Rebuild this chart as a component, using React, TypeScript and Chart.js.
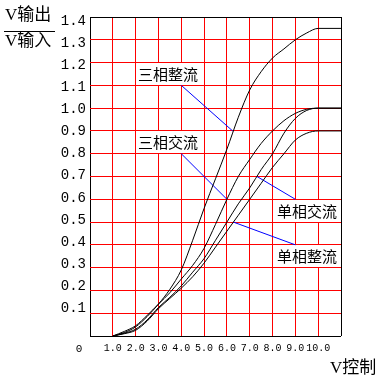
import React, { useEffect, useRef } from 'react';
import { Chart, registerables } from 'chart.js';

Chart.register(...registerables);

// ---- data ----
const xValues = [1, 1.5, 2, 2.5, 3, 3.5, 4, 4.5, 5, 5.5, 6, 6.5, 7, 7.5, 8, 8.5, 9, 9.5, 10, 11];
const sanXiangZhengLiu = [0, 0.015, 0.04, 0.085, 0.14, 0.205, 0.29, 0.42, 0.56, 0.69, 0.82, 0.96, 1.08, 1.16, 1.22, 1.26, 1.3, 1.33, 1.35, 1.35];
const sanXiangJiaoLiu = [0, 0.02, 0.045, 0.09, 0.14, 0.19, 0.25, 0.31, 0.385, 0.49, 0.6, 0.7, 0.775, 0.845, 0.9, 0.945, 0.977, 0.995, 1.0, 1.0];
const danXiangJiaoLiu = [0, 0.012, 0.03, 0.07, 0.125, 0.17, 0.22, 0.28, 0.34, 0.42, 0.5, 0.58, 0.65, 0.73, 0.8, 0.89, 0.955, 0.99, 1.0, 1.0];
const danXiangZhengLiu = [0, 0.01, 0.025, 0.065, 0.12, 0.165, 0.21, 0.26, 0.32, 0.39, 0.46, 0.53, 0.6, 0.67, 0.74, 0.8, 0.86, 0.89, 0.9, 0.9];

const xTickValues = [0, 1, 2, 3, 4, 5, 6, 7, 8, 9, 10, 11];
const xTickLabels = ['', '1.0', '2.0', '3.0', '4.0', '5.0', '6.0', '7.0', '8.0', '9.0', '10.0', ''];
const yGridValues = [0, 0.1, 0.2, 0.3, 0.4, 0.5, 0.6, 0.7, 0.8, 0.9, 1.0, 1.1, 1.2, 1.3, 1.4];
const yTickValues = [0.1, 0.2, 0.3, 0.4, 0.5, 0.6, 0.7, 0.8, 0.9, 1.0, 1.1, 1.2, 1.3, 1.4];

// annotations
const labelTexts = ['三相整流', '三相交流', '单相交流', '单相整流'];
const labelBoxX0 = [2, 2, 8, 8];
const labelBoxX1 = [5, 5, 11, 11];
const labelBoxY0 = [1.1, 0.8, 0.5, 0.3];
const labelBoxY1 = [1.2, 0.9, 0.6, 0.4];
const labelTextX = [2.1, 2.1, 8.2, 8.2];
const pointerStartX = [4, 4, 9, 9];
const pointerStartY = [1.1, 0.8, 0.6, 0.4];
const pointerEndX = [6.25, 6.0, 7.32, 6.28];
const pointerEndY = [0.9, 0.6, 0.7, 0.5];

const yTitleTop = 'V输出';
const yTitleBottom = 'V输入';
const xTitle = 'V控制';
const originLabel = '0';

const CJK = "'Noto Sans CJK SC'";
const MONO = "'Liberation Mono', 'DejaVu Sans Mono', monospace";

const annotationPlugin = {
  id: 'annot',
  beforeDatasetsDraw(chart: any) {
    const { ctx } = chart;
    const xs = chart.scales.x;
    const ys = chart.scales.y;
    ctx.save();
    labelTexts.forEach((t, i) => {
      const l = Math.round(xs.getPixelForValue(labelBoxX0[i]) - 0.5) + 1;
      const r = Math.round(xs.getPixelForValue(labelBoxX1[i]) - 0.5);
      const top = Math.round(ys.getPixelForValue(labelBoxY1[i]) - 0.5) + 1;
      const bot = Math.round(ys.getPixelForValue(labelBoxY0[i]) - 0.5);
      ctx.fillStyle = '#ffffff';
      ctx.fillRect(l, top, r - l, bot - top);
      ctx.fillStyle = '#000000';
      ctx.font = `15px ${CJK}`;
      ctx.textAlign = 'left';
      ctx.textBaseline = 'middle';
      ctx.fillText(t, xs.getPixelForValue(labelTextX[i]), (top + bot) / 2 + 0.5);
    });
    ctx.restore();
  },
  afterDraw(chart: any) {
    const { ctx } = chart;
    ctx.save();
    ctx.fillStyle = '#000';
    ctx.textBaseline = 'middle';
    ctx.textAlign = 'left';
    ctx.font = `17px 'Liberation Serif', ${CJK}`;
    ctx.fillText(yTitleTop, 5, 16);
    ctx.fillText(yTitleBottom, 5, 41.5);
    ctx.fillText(xTitle, 330, 369);
    ctx.strokeStyle = '#000';
    ctx.lineWidth = 1;
    ctx.beginPath();
    ctx.moveTo(4, 31.5);
    ctx.lineTo(55, 31.5);
    ctx.stroke();
    ctx.font = `11px ${MONO}`;
    ctx.textAlign = 'center';
    ctx.fillText(originLabel, 79, 349);
    ctx.restore();
  },
};

function curve(ys: number[]) {
  return xValues.map((x, i) => ({ x, y: ys[i] }));
}

export default function App() {
  const ref = useRef<HTMLCanvasElement | null>(null);
  useEffect(() => {
    if (!ref.current) return;
    const curveStyle = {
      borderColor: '#000000',
      borderWidth: 1,
      pointRadius: 0,
      cubicInterpolationMode: 'monotone' as const,
      fill: false,
    };
    const pointerSets = pointerStartX.map((sx, i) => ({
      data: [
        { x: sx, y: pointerStartY[i] },
        { x: pointerEndX[i], y: pointerEndY[i] },
      ],
      borderColor: '#0000ff',
      borderWidth: 1,
      pointRadius: 0,
      tension: 0,
      fill: false,
    }));
    const chart = new Chart(ref.current, {
      type: 'line',
      data: {
        datasets: [
          { label: '三相整流', data: curve(sanXiangZhengLiu), ...curveStyle },
          { label: '三相交流', data: curve(sanXiangJiaoLiu), ...curveStyle },
          { label: '单相交流', data: curve(danXiangJiaoLiu), ...curveStyle },
          { label: '单相整流', data: curve(danXiangZhengLiu), ...curveStyle },
          ...pointerSets,
        ] as any,
      },
      options: {
        animation: false,
        responsive: false,
        events: [],
        layout: { padding: { left: 0, top: 17, right: 40, bottom: 0 } },
        plugins: { legend: { display: false }, tooltip: { enabled: false } },
        scales: {
          x: {
            type: 'linear',
            min: 0,
            max: 11,
            afterBuildTicks: (ax: any) => {
              ax.ticks = xTickValues.map((v) => ({ value: v }));
            },
            grid: {
              color: (c: any) =>
                c.tick && (c.tick.value === 0 || c.tick.value === 11) ? '#000000' : '#ff0000',
              lineWidth: 1,
              drawTicks: false,
            },
            border: { display: false },
            ticks: {
              autoSkip: false,
              maxRotation: 0,
              minRotation: 0,
              padding: 6,
              color: '#000',
              font: { family: MONO, size: 10 },
              callback: (_v: any, i: number) => xTickLabels[i],
            },
            afterFit: (s: any) => {
              s.height = 47;
            },
          },
          y: {
            type: 'linear',
            position: 'left',
            min: 0,
            max: 1.4,
            afterBuildTicks: (ax: any) => {
              ax.ticks = yGridValues.map((v) => ({ value: v }));
            },
            grid: {
              color: (c: any) =>
                c.tick && (Math.abs(c.tick.value) < 1e-9 || Math.abs(c.tick.value - 1.4) < 1e-9)
                  ? '#000000'
                  : '#ff0000',
              lineWidth: 1,
              drawTicks: false,
            },
            border: { display: false },
            ticks: { display: false },
            afterFit: (s: any) => {
              s.width = 0;
            },
          },
          yl: {
            type: 'linear',
            position: 'left',
            min: -0.0244,
            max: 1.418,
            afterBuildTicks: (ax: any) => {
              ax.ticks = yTickValues.map((v) => ({ value: v }));
            },
            grid: { display: false, drawTicks: false },
            border: { display: false },
            ticks: {
              padding: 4,
              color: '#000',
              font: { family: MONO, size: 14 },
              callback: (v: any) => Number(v).toFixed(1),
            },
            afterFit: (s: any) => {
              s.width = 90;
            },
          },
        } as any,
      },
      plugins: [annotationPlugin],
    });
    return () => chart.destroy();
  }, []);
  return (
    <div style={{ position: 'absolute', left: 0, top: 0, width: 381, height: 383, background: '#fff' }}>
      <canvas ref={ref} width={381} height={383} style={{ width: 381, height: 383, display: 'block' }} />
    </div>
  );
}
